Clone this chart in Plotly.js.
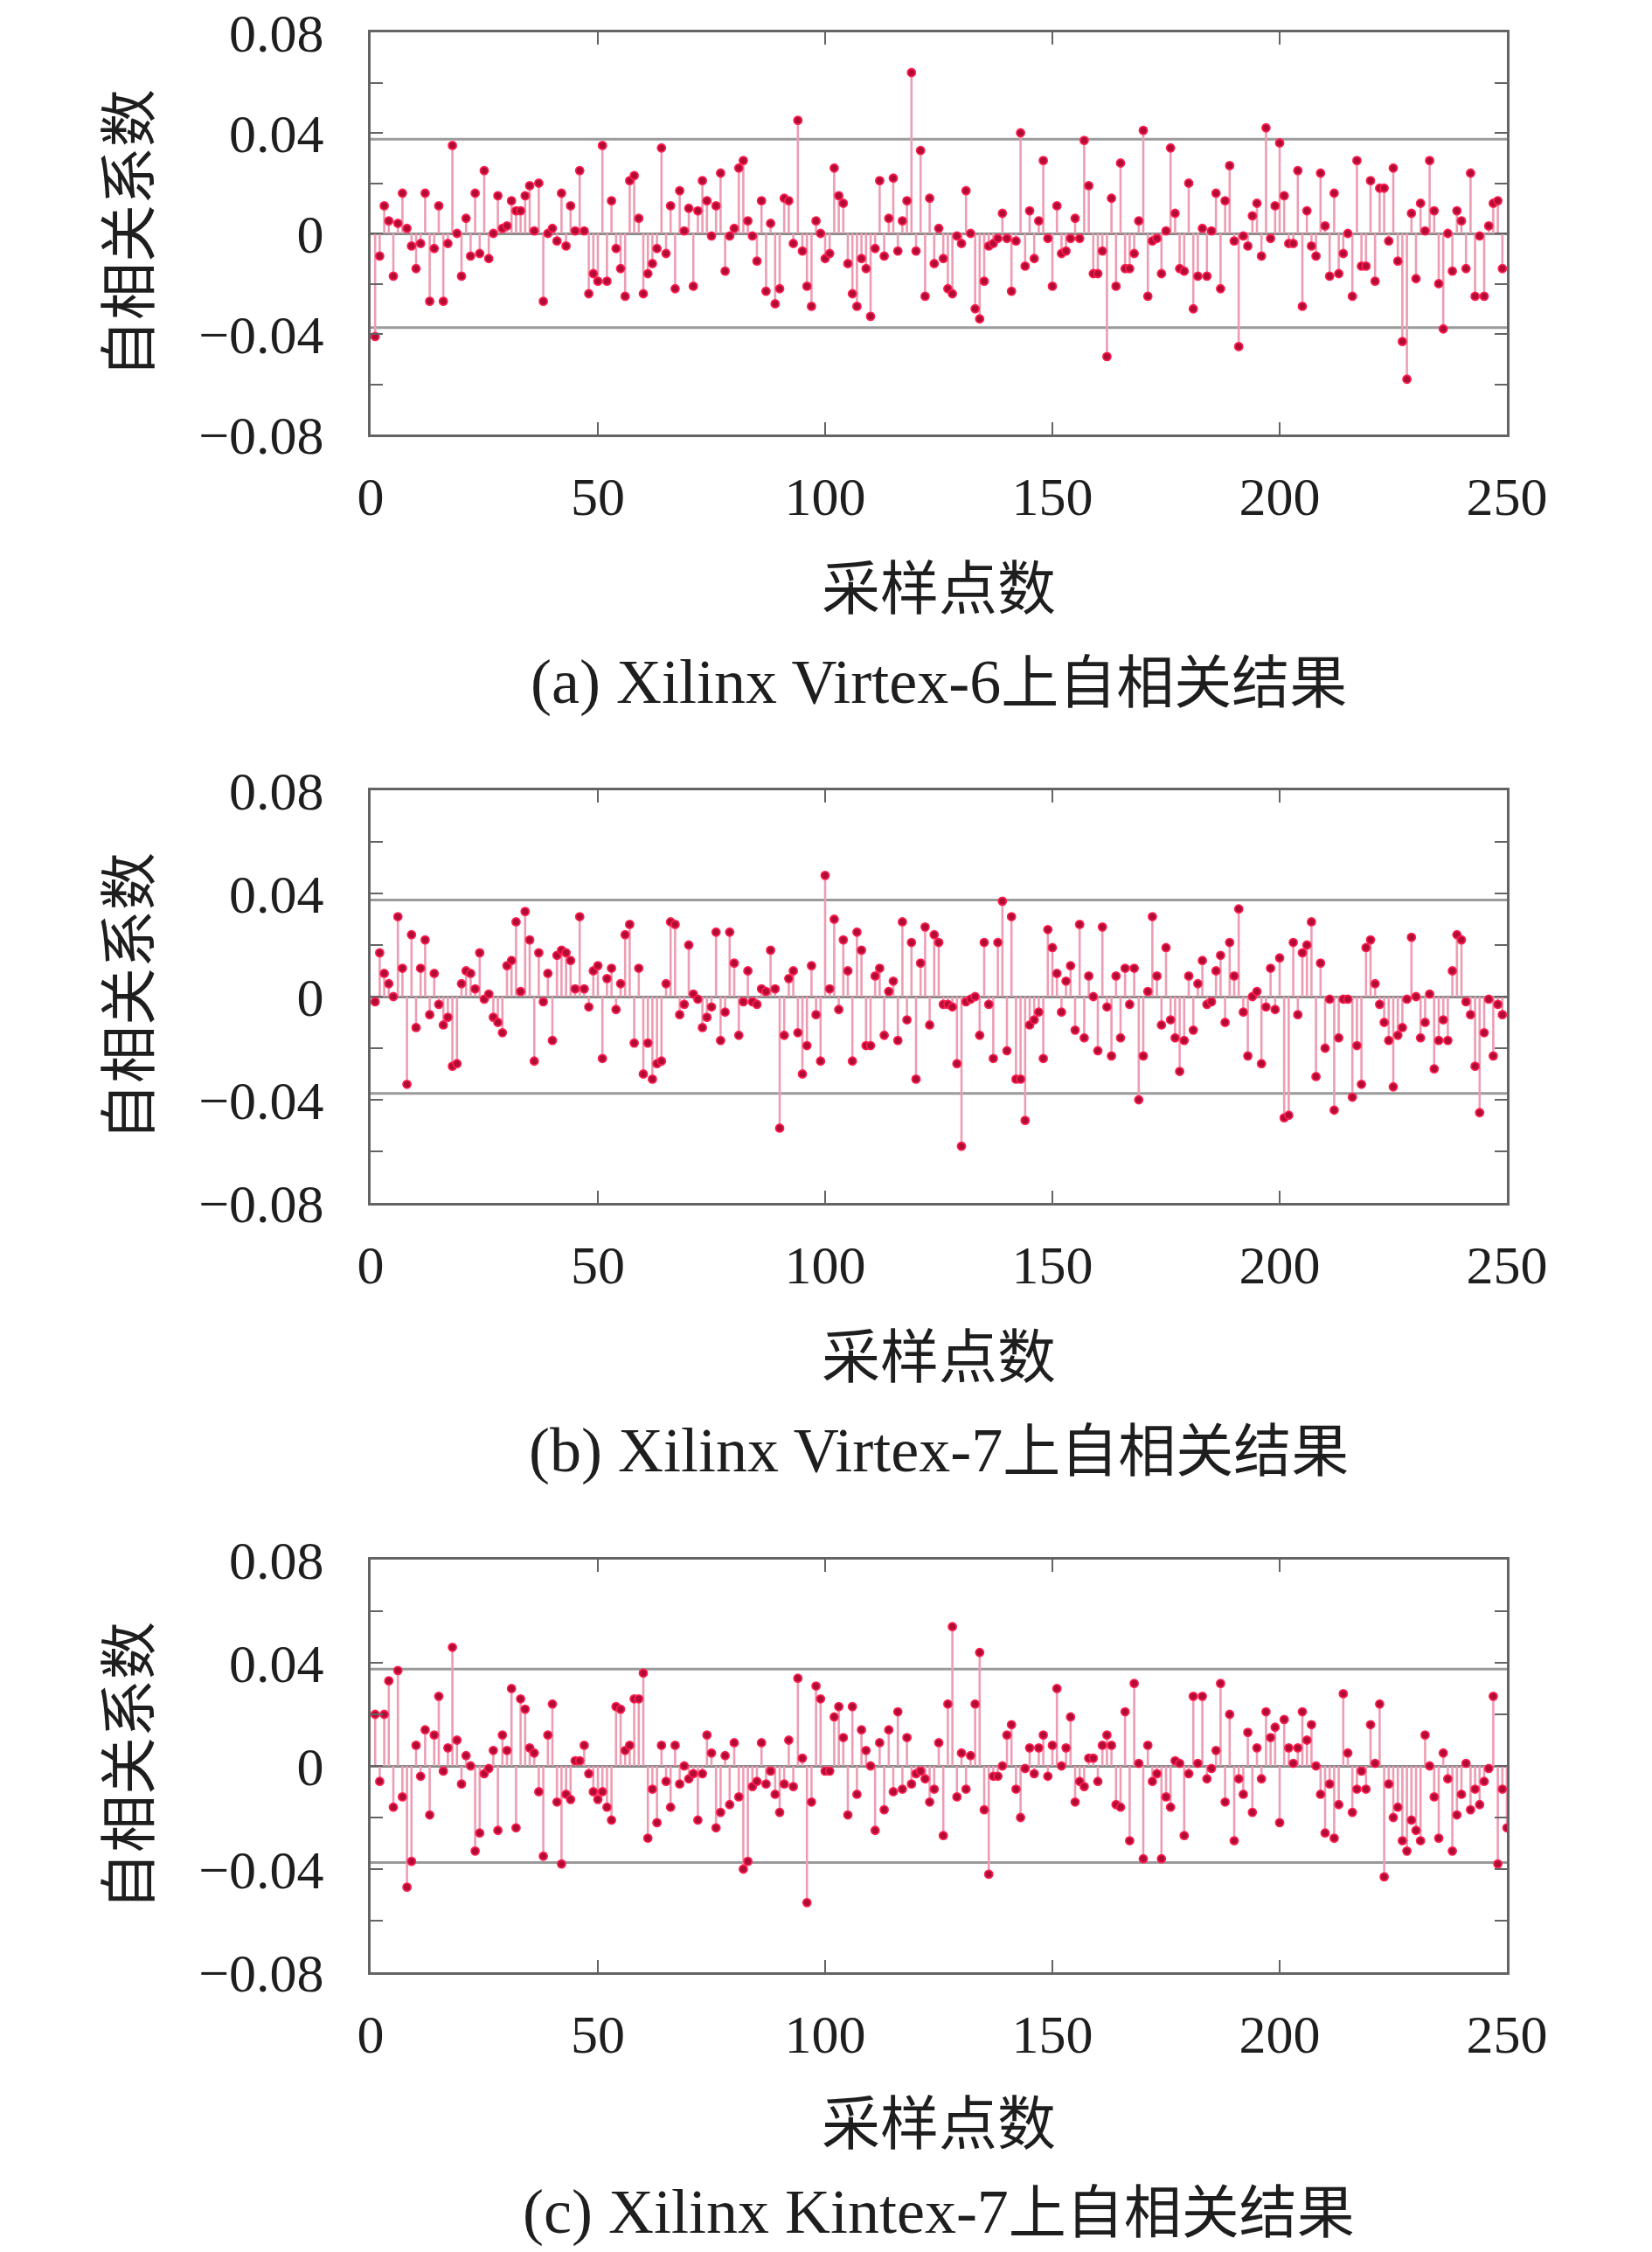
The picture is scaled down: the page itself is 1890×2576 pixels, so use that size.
<!DOCTYPE html>
<html>
<head>
<meta charset="utf-8">
<script src="https://cdn.plot.ly/plotly-3.0.1.min.js"></script>
<style>html,body{margin:0;padding:0;background:#fff;}#chart{width:1890px;height:2576px;}</style>
</head>
<body>
<div id="chart"></div>
<script>
// ---- data ----
const virtex6 = [
-0.041,-0.009,0.011,0.005,-0.017,0.004,0.016,0.002,-0.005,-0.014,
-0.004,0.016,-0.027,-0.006,0.011,-0.027,-0.004,0.035,0.000,-0.017,
0.006,-0.009,0.016,-0.008,0.025,-0.010,0.000,0.015,0.002,0.003,
0.013,0.009,0.009,0.015,0.019,0.001,0.020,-0.027,0.000,0.002,
-0.003,0.016,-0.005,0.011,0.001,0.025,0.001,-0.024,-0.016,-0.019,
0.035,-0.019,0.013,-0.006,-0.014,-0.025,0.021,0.023,0.006,-0.024,
-0.016,-0.012,-0.006,0.034,-0.008,0.011,-0.022,0.017,0.001,0.010,
-0.021,0.009,0.021,0.013,-0.001,0.011,0.024,-0.015,-0.001,0.002,
0.026,0.029,0.005,-0.001,-0.011,0.013,-0.023,0.004,-0.028,-0.022,
0.014,0.013,-0.004,0.045,-0.007,-0.021,-0.029,0.005,0.000,-0.010,
-0.008,0.026,0.015,0.012,-0.012,-0.024,-0.029,-0.010,-0.014,-0.033,
-0.006,0.021,-0.009,0.006,0.022,-0.007,0.005,0.013,0.064,-0.007,
0.033,-0.025,0.014,-0.012,0.002,-0.010,-0.022,-0.024,-0.001,-0.004,
0.017,0.000,-0.030,-0.034,-0.019,-0.005,-0.004,-0.002,0.008,-0.002,
-0.023,-0.003,0.040,-0.013,0.009,-0.010,0.005,0.029,-0.002,-0.021,
0.011,-0.008,-0.007,-0.002,0.006,-0.002,0.037,0.019,-0.016,-0.016,
-0.007,-0.049,0.014,-0.021,0.028,-0.014,-0.014,-0.008,0.005,0.041,
-0.025,-0.003,-0.002,-0.016,0.001,0.034,0.008,-0.014,-0.015,0.020,
-0.030,-0.017,0.002,-0.017,0.001,0.016,-0.022,0.013,0.027,-0.003,
-0.045,-0.001,-0.005,0.007,0.012,-0.009,0.042,-0.002,0.011,0.036,
0.015,-0.004,-0.004,0.025,-0.029,0.009,-0.005,-0.009,0.024,0.003,
-0.017,0.016,-0.016,-0.008,0.000,-0.025,0.029,-0.013,-0.013,0.021,
-0.019,0.018,0.018,-0.003,0.026,-0.011,-0.043,-0.058,0.008,-0.018,
0.012,0.001,0.029,0.009,-0.020,-0.038,0.000,-0.015,0.009,0.005,
-0.014,0.024,-0.025,-0.001,-0.025,0.003,0.012,0.013,-0.014
];
const virtex7 = [
-0.002,0.017,0.009,0.005,0.000,0.031,0.011,-0.034,0.024,-0.012,
0.011,0.022,-0.007,0.009,-0.003,-0.011,-0.008,-0.027,-0.026,0.005,
0.010,0.009,0.003,0.017,-0.001,0.001,-0.008,-0.010,-0.014,0.012,
0.014,0.029,0.002,0.033,0.022,-0.025,0.017,-0.002,0.009,-0.017,
0.016,0.018,0.017,0.014,0.003,0.031,0.003,-0.004,0.010,0.012,
-0.024,0.007,0.011,-0.005,0.005,0.024,0.028,-0.018,0.011,-0.030,
-0.018,-0.032,-0.026,-0.025,0.005,0.029,0.028,-0.007,-0.003,0.020,
0.001,-0.001,-0.012,-0.008,-0.004,0.025,-0.017,-0.006,0.025,0.013,
-0.015,-0.002,0.010,-0.002,-0.003,0.003,0.002,0.018,0.003,-0.051,
-0.015,0.007,0.010,-0.014,-0.030,-0.019,0.012,-0.007,-0.025,0.047,
0.003,0.030,-0.005,0.022,0.010,-0.025,0.025,0.018,-0.019,-0.019,
0.008,0.011,-0.015,0.002,0.006,-0.017,0.029,-0.009,0.021,-0.032,
0.013,0.027,-0.011,0.024,0.021,-0.003,-0.003,-0.004,-0.026,-0.058,
-0.002,-0.001,0.000,-0.015,0.021,-0.003,-0.024,0.021,0.037,-0.021,
0.031,-0.032,-0.032,-0.048,-0.011,-0.009,-0.006,-0.024,0.026,0.019,
0.009,-0.006,0.006,0.012,-0.013,0.028,-0.016,0.008,0.000,-0.021,
0.027,-0.004,-0.023,0.008,-0.016,0.011,-0.003,0.011,-0.040,-0.023,
0.002,0.031,0.008,-0.011,0.019,-0.009,-0.016,-0.029,-0.017,0.008,
-0.013,0.005,0.014,-0.003,-0.002,0.010,0.016,-0.010,0.021,0.008,
0.034,-0.006,-0.023,0.000,0.002,-0.026,-0.004,0.011,-0.005,0.015,
-0.047,-0.046,0.021,-0.007,0.017,0.020,0.029,-0.031,0.013,-0.020,
-0.001,-0.044,-0.016,-0.001,-0.001,-0.039,-0.019,-0.034,0.019,0.022,
0.005,-0.003,-0.010,-0.017,-0.035,-0.015,-0.012,-0.001,0.023,0.000,
-0.016,-0.010,0.001,-0.028,-0.017,-0.009,-0.017,0.010,0.024,0.022,
-0.002,-0.007,-0.027,-0.045,-0.014,-0.001,-0.023,-0.003,-0.007
];
const kintex7 = [
0.020,-0.006,0.020,0.033,-0.016,0.037,-0.012,-0.047,-0.037,0.008,
-0.004,0.014,-0.019,0.012,0.027,-0.002,0.007,0.046,0.010,-0.007,
0.004,0.000,-0.033,-0.026,-0.003,-0.001,0.006,-0.025,0.012,0.006,
0.030,-0.024,0.026,0.022,0.007,0.005,-0.010,-0.035,0.012,0.024,
-0.014,-0.038,-0.011,-0.013,0.002,0.002,0.008,-0.003,-0.010,-0.013,
-0.010,-0.016,-0.021,0.023,0.022,0.006,0.008,0.026,0.026,0.036,
-0.028,-0.009,-0.022,0.008,-0.006,-0.016,0.008,-0.007,0.000,-0.005,
-0.003,-0.021,-0.003,0.012,0.005,-0.024,-0.018,0.004,-0.015,0.009,
-0.012,-0.040,-0.037,-0.008,-0.006,0.009,-0.007,-0.002,-0.011,-0.018,
-0.007,0.010,-0.008,0.034,0.003,-0.053,-0.014,0.031,0.026,-0.002,
-0.002,0.019,0.023,0.011,-0.019,0.023,-0.011,0.014,0.006,0.000,
-0.025,0.009,-0.017,0.014,-0.010,0.021,-0.009,0.011,-0.007,-0.003,
-0.002,-0.005,-0.014,-0.009,0.009,-0.027,0.024,0.054,-0.012,0.005,
-0.009,0.004,0.024,0.044,-0.017,-0.042,-0.004,-0.004,0.000,0.012,
0.016,-0.009,-0.020,-0.001,0.007,-0.003,0.007,0.012,-0.004,0.008,
0.030,0.000,0.007,0.019,-0.014,-0.006,-0.008,0.003,0.003,-0.006,
0.008,0.012,0.008,-0.015,-0.016,0.021,-0.029,0.032,0.001,-0.036,
0.008,-0.006,-0.003,-0.036,-0.012,-0.016,0.002,0.001,-0.027,-0.003,
0.027,0.001,0.027,-0.005,-0.001,0.006,0.032,-0.014,0.020,-0.029,
-0.005,-0.011,0.013,-0.018,0.007,-0.005,0.021,0.011,0.015,-0.022,
0.018,0.007,0.001,0.007,0.021,0.010,0.016,0.000,-0.011,-0.026,
-0.007,-0.028,-0.015,0.028,0.005,-0.018,-0.009,-0.002,-0.009,0.016,
0.001,0.024,-0.043,-0.007,-0.020,-0.016,-0.029,-0.033,-0.021,-0.025,
-0.029,0.012,0.000,-0.012,-0.028,0.005,-0.005,-0.033,-0.019,-0.011,
0.001,-0.017,-0.009,-0.015,-0.006,-0.001,0.027,-0.038,-0.009,-0.024
];
const captionLatin = ['(a) Xilinx Virtex-6', '(b) Xilinx Virtex-7', '(c) Xilinx Kintex-7'];
const captionCJK = '上自相关结果';
const xTitle = '采样点数';
const yTitle = '自相关系数';
const xTickVals = [0, 50, 100, 150, 200, 250];
const yTickVals = [-0.08, -0.06, -0.04, -0.02, 0, 0.02, 0.04, 0.06, 0.08];
const yTickText = ['\u22120.08', '', '\u22120.04', '', '0', '', '0.04', '', '0.08'];
const bound = 0.0375;   // confidence bound lines

// ---- layout geometry (pixels) ----
const W = 1890, H = 2576;
const plotL = 424, plotR = 1724;
const panels = [
  {top: 37, bottom: 497, xtY: 674, capY: 780},
  {top: 904, bottom: 1376, xtY: 1553, capY: 1659},
  {top: 1784, bottom: 2256, xtY: 2430, capY: 2530}
];
const series = [virtex6, virtex7, kintex7];

const serif = '"Liberation Serif", "Noto Sans CJK SC", serif';
const txt = '#1e1e1e';
const frame = '#646464';

const data = [];
const layout = {
  width: W, height: H,
  margin: {l: 0, r: 0, t: 0, b: 0, pad: 0},
  paper_bgcolor: '#ffffff', plot_bgcolor: '#ffffff',
  showlegend: false,
  font: {family: serif, color: txt, size: 62},
  shapes: [], annotations: []
};

series.forEach((vals, i) => {
  const k = i === 0 ? '' : String(i + 1);
  const xa = 'x' + k, ya = 'y' + k;
  const lags = vals.map((v, j) => j + 1);
  const sx = [], sy = [];
  vals.forEach((v, j) => { sx.push(lags[j], lags[j], null); sy.push(0, v, null); });
  data.push({type: 'scatter', mode: 'lines', x: sx, y: sy, xaxis: xa, yaxis: ya,
    line: {color: '#ec9db3', width: 2.6}, hoverinfo: 'skip', connectgaps: false});
  data.push({type: 'scatter', mode: 'markers', x: lags, y: vals, xaxis: xa, yaxis: ya,
    marker: {color: '#b00c36', size: 9, line: {color: '#ff1d4e', width: 1.8}}});

  const p = panels[i];
  const dom = [1 - p.bottom / H, 1 - p.top / H];
  layout['xaxis' + k] = {
    anchor: ya, domain: [plotL / W, plotR / W], range: [0, 250],
    tickvals: xTickVals, ticks: 'inside', ticklen: 14, tickwidth: 2, tickcolor: frame,
    showline: true, linecolor: frame, linewidth: 3, mirror: 'ticks',
    showgrid: false, zeroline: false, ticklabelstandoff: 15, ticklabeloverflow: 'allow',
    tickfont: {family: serif, size: 62, color: txt}
  };
  layout['yaxis' + k] = {
    anchor: xa, domain: dom, range: [-0.08, 0.08],
    tickvals: yTickVals, ticktext: yTickText, ticks: 'inside', ticklen: 14, tickwidth: 2, tickcolor: frame,
    showline: true, linecolor: frame, linewidth: 3, mirror: 'ticks',
    showgrid: false, zeroline: true, zerolinecolor: '#8a8a8a', zerolinewidth: 3,
    ticklabelstandoff: 38, ticklabeloverflow: 'allow',
    tickfont: {family: serif, size: 62, color: txt}
  };
  [bound, -bound].forEach(b => layout.shapes.push({
    type: 'line', xref: xa + ' domain', yref: ya, x0: 0, x1: 1, y0: b, y1: b,
    line: {color: '#9a9a9a', width: 3}, layer: 'below'
  }));
  const cx = (plotL + plotR) / 2 / W;
  layout.annotations.push({xref: 'paper', yref: 'paper', x: cx, y: 1 - p.xtY / H,
    text: xTitle, showarrow: false, xanchor: 'center', yanchor: 'middle',
    font: {family: serif, size: 67, color: txt}});
  layout.annotations.push({xref: 'paper', yref: 'paper', x: cx, y: 1 - p.capY / H,
    text: '<span style="font-size:72px">' + captionLatin[i] + '</span>' + captionCJK,
    showarrow: false, xanchor: 'center', yanchor: 'middle',
    font: {family: serif, size: 66, color: txt}});
  layout.annotations.push({xref: 'paper', yref: 'paper', x: 148 / W, y: 1 - (p.top + p.bottom) / 2 / H,
    text: yTitle, textangle: -90, showarrow: false, xanchor: 'center', yanchor: 'middle',
    font: {family: serif, size: 66, color: txt}});
});

Plotly.newPlot('chart', data, layout, {staticPlot: true, displayModeBar: false});
</script>
</body>
</html>
